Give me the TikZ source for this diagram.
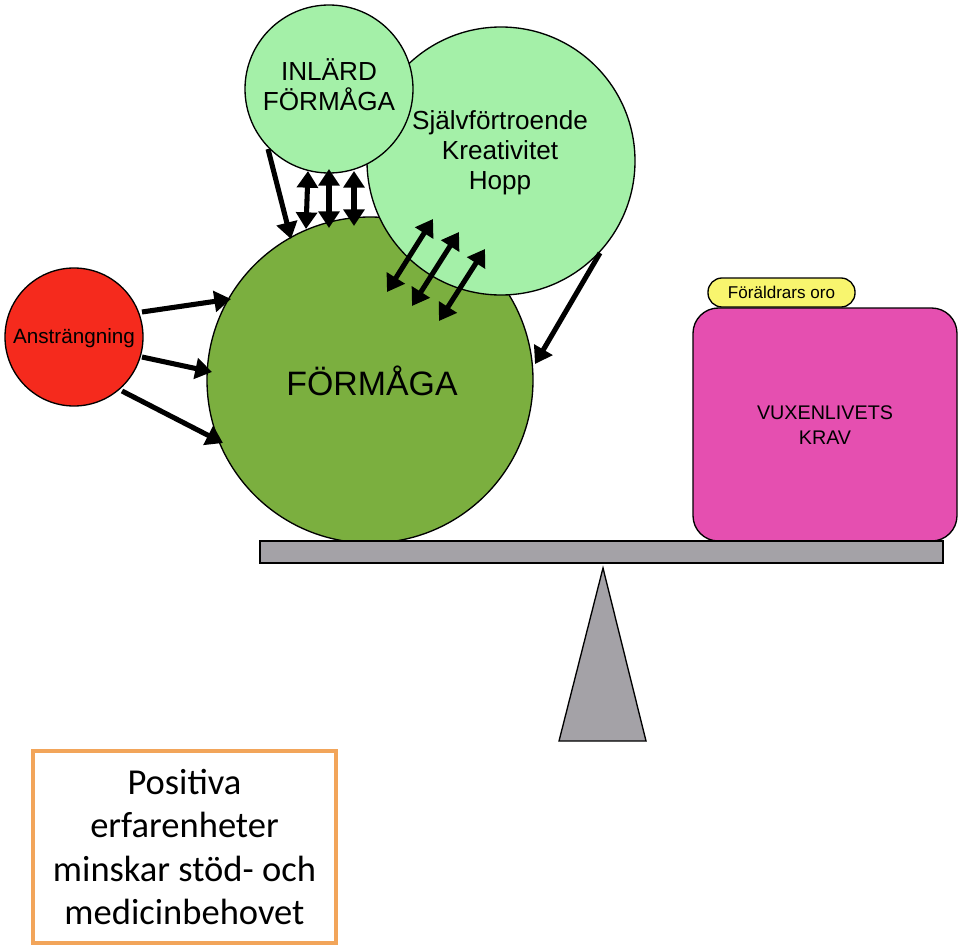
\documentclass[tikz,border=0pt]{standalone}
\usepackage{fontspec}
\setmainfont{Liberation Sans}
\newfontfamily\calib{Carlito}
\usetikzlibrary{arrows.meta}
\definecolor{bigGreen}{HTML}{7BAF3F}
\definecolor{lightGreen}{HTML}{A4F0A8}
\definecolor{redC}{HTML}{F52A1D}
\definecolor{pinkC}{HTML}{E54FB0}
\definecolor{yellowC}{HTML}{F8F56E}
\definecolor{grayC}{HTML}{A4A2A7}
\definecolor{orangeC}{HTML}{F2A55A}
\tikzset{
  ball/.style={circle, draw=black, line width=1pt, inner sep=0pt},
  arr/.style={line width=3.8pt, -{Triangle[length=12.5pt,width=15.5pt]}},
  darr/.style={line width=3.8pt, {Triangle[length=12.5pt,width=15.5pt]}-{Triangle[length=12.5pt,width=15.5pt]}},
  outl/.style={draw=black, line width=1pt}
}
\begin{document}
\begin{tikzpicture}[x=0.75pt,y=-0.75pt]
\useasboundingbox (0,0) rectangle (960,949);
% big circle
\node[ball, fill=bigGreen, minimum size=244.5pt] (F) at (370,380) {};
\node[font=\fontsize{25.4}{28}\selectfont] (Ft) at (372,381) {FÖRMÅGA};
% Självförtroende circle
\node[ball, fill=lightGreen, minimum size=201pt] (S) at (501,161) {};
\node[align=center, font=\fontsize{19.6}{22.5}\selectfont] (St) at (500,153) {Självförtroende\\Kreativitet\\Hopp};
% INLÄRD circle
\node[ball, fill=lightGreen, minimum size=126pt] (I) at (329,89) {};
\node[align=center, font=\fontsize{19.6}{22.5}\selectfont] (It) at (329,85) {INLÄRD\\FÖRMÅGA};
% Ansträngning
\node[ball, fill=redC, minimum size=103.5pt] (A) at (74,337) {};
\node[font=\fontsize{15.5}{18}\selectfont] (At) at (74,338) {Ansträngning};
% pink box
\node[outl, fill=pinkC, rounded corners=19pt, minimum width=198pt, minimum height=174.75pt, inner sep=0pt] (V) at (825,424.5) {};
\node[align=center, font=\fontsize{14.8}{18.75}\selectfont] (Vt) at (825,425) {VUXENLIVETS\\KRAV};
% yellow pill
\node[outl, fill=yellowC, rounded corners=10.5pt, minimum width=110.25pt, minimum height=21.75pt, inner sep=0pt, font=\fontsize{12.8}{15}\selectfont] (O) at (781.5,292.5) {Föräldrars oro};
% beam
\node[outl, fill=grayC, minimum width=512.25pt, minimum height=16.5pt, inner sep=0pt] (B) at (601.5,552) {};
% fulcrum
\coordinate (T1) at (603,568);
\coordinate (T2) at (559,741);
\coordinate (T3) at (646,741);
\draw[outl, fill=grayC] (T1) -- (T2) -- (T3) -- cycle;
% bottom box
\node[draw=orangeC, line width=3pt, minimum width=227.25pt, minimum height=144pt, align=center,
  font=\calib\fontsize{27.4}{32.6}\selectfont] (P) at (184.5,847) {Positiva\\erfarenheter\\minskar stöd- och\\medicinbehovet};
% arrows from Ansträngning
\coordinate (a1s) at (142,312); \coordinate (a1e) at (231,299);
\coordinate (a2s) at (142,357); \coordinate (a2e) at (212,372);
\coordinate (a3s) at (122,391); \coordinate (a3e) at (223,443);
\draw[arr] (a1s) -- (a1e);
\draw[arr] (a2s) -- (a2e);
\draw[arr] (a3s) -- (a3e);
% arrow from INLÄRD left
\coordinate (b1s) at (268,149); \coordinate (b1e) at (291,239);
\draw[arr] (b1s) -- (b1e);
% vertical double arrows
\coordinate (v1s) at (308,171); \coordinate (v1e) at (306,229);
\coordinate (v2s) at (329,169); \coordinate (v2e) at (329,228);
\coordinate (v3s) at (354,171); \coordinate (v3e) at (354,226);
\draw[darr] (v1s) -- (v1e);
\draw[darr] (v2s) -- (v2e);
\draw[darr] (v3s) -- (v3e);
% diagonal double arrows
\coordinate (d1s) at (433,219); \coordinate (d1e) at (387,292);
\coordinate (d2s) at (459,232); \coordinate (d2e) at (412,306);
\coordinate (d3s) at (485,249); \coordinate (d3e) at (439,321);
\draw[darr] (d1s) -- (d1e);
\draw[darr] (d2s) -- (d2e);
\draw[darr] (d3s) -- (d3e);
% arrow from right circle
\coordinate (r1s) at (600,253); \coordinate (r1e) at (535,364);
\draw[arr] (r1s) -- (r1e);
\end{tikzpicture}
\end{document}
